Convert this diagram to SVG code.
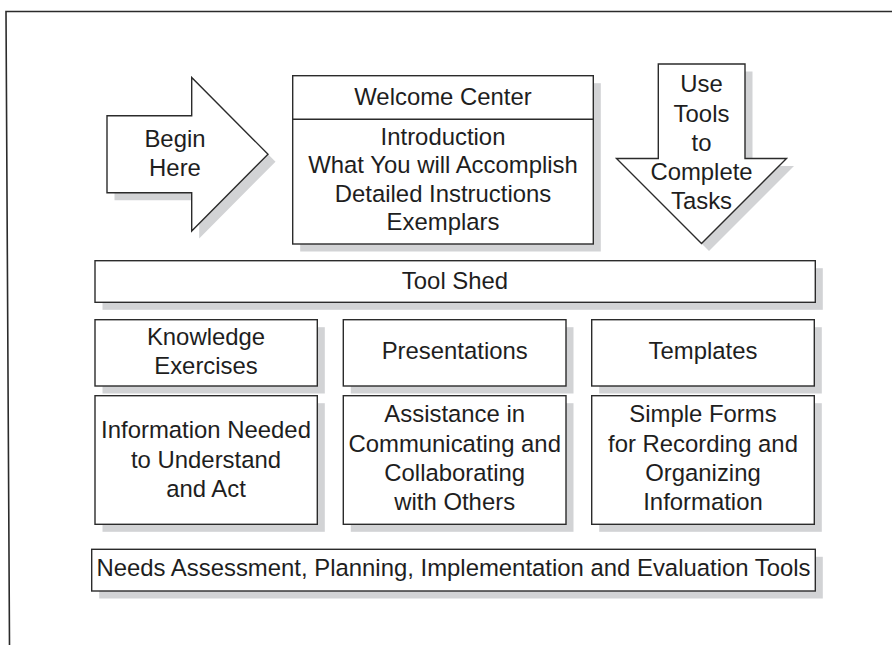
<svg xmlns="http://www.w3.org/2000/svg" xmlns:xlink="http://www.w3.org/1999/xlink" width="892" height="645" viewBox="0 0 892 645">
  <style>
    .shape { fill: #ffffff; stroke: #2b2b2b; stroke-width: 1.4; }
    .shadow { fill: #d2d3d5; stroke: none; }
    .frame { fill: none; stroke: #2b2b2b; stroke-width: 1.6; }
    .label { font-family: "Liberation Sans", Arial, sans-serif; font-size: 23.9px; fill: #1e1e1e; text-anchor: middle; }
  </style>
  <defs>
    <polygon id="beginShape" points="107,115.7 191.7,115.7 191.7,77.5 268,154.2 191.7,231 191.7,192.7 107,192.7"/>
    <polygon id="downShape" points="658.3,64 745,64 745,158.5 786.5,158.5 701.5,243.5 616.5,158.5 658.3,158.5"/>
  </defs>

  <rect width="892" height="645" fill="#ffffff"/>

  <!-- page frame -->
  <polyline class="frame" points="892,11.5 6,11.5 9.5,645"/>

  <!-- connectors (none drawn between nodes) -->
  <g id="connectors"></g>

  <g id="begin-here">
    <use xlink:href="#beginShape" class="shadow" transform="translate(7.5,7.5)"/>
    <use xlink:href="#beginShape" class="shape"/>
    <text class="label" x="175" y="147.3">Begin</text>
    <text class="label" x="175" y="175.5">Here</text>
  </g>

  <g id="welcome-center">
    <rect class="shadow" x="300.2" y="83.2" width="300.6" height="168.3"/>
    <rect class="shape" x="292.7" y="75.7" width="300.6" height="168.3"/>
    <line class="shape" x1="292.7" y1="119.3" x2="593.3" y2="119.3"/>
    <text class="label" x="443" y="105">Welcome Center</text>
    <text class="label" x="443" y="145">Introduction</text>
    <text class="label" x="443" y="173.4">What You will Accomplish</text>
    <text class="label" x="443" y="201.8">Detailed Instructions</text>
    <text class="label" x="443" y="230.2">Exemplars</text>
  </g>

  <g id="use-tools">
    <use xlink:href="#downShape" class="shadow" transform="translate(7.5,7.5)"/>
    <use xlink:href="#downShape" class="shape"/>
    <text class="label" x="701.5" y="92.3">Use</text>
    <text class="label" x="701.5" y="121.5">Tools</text>
    <text class="label" x="701.5" y="150.7">to</text>
    <text class="label" x="701.5" y="180">Complete</text>
    <text class="label" x="701.5" y="209.3">Tasks</text>
  </g>

  <g id="tool-shed">
    <rect class="shadow" x="102.5" y="268.2" width="720.3" height="41.6"/>
    <rect class="shape" x="95" y="260.7" width="720.3" height="41.6"/>
    <text class="label" x="455" y="288.5">Tool Shed</text>
  </g>

  <g id="knowledge-exercises">
    <rect class="shadow" x="102.5" y="327.2" width="222.3" height="66.3"/>
    <rect class="shape" x="95" y="319.7" width="222.3" height="66.3"/>
    <text class="label" x="206" y="345">Knowledge</text>
    <text class="label" x="206" y="373.5">Exercises</text>
  </g>

  <g id="presentations">
    <rect class="shadow" x="350.8" y="327.2" width="222.7" height="66.3"/>
    <rect class="shape" x="343.3" y="319.7" width="222.7" height="66.3"/>
    <text class="label" x="454.7" y="358.5">Presentations</text>
  </g>

  <g id="templates">
    <rect class="shadow" x="599.2" y="327.2" width="222.6" height="66.3"/>
    <rect class="shape" x="591.7" y="319.7" width="222.6" height="66.3"/>
    <text class="label" x="703" y="358.5">Templates</text>
  </g>

  <g id="information-needed">
    <rect class="shadow" x="102.5" y="403.2" width="222.3" height="128.6"/>
    <rect class="shape" x="95" y="395.7" width="222.3" height="128.6"/>
    <text class="label" x="206" y="438.3">Information Needed</text>
    <text class="label" x="206" y="467.5">to Understand</text>
    <text class="label" x="206" y="496.7">and Act</text>
  </g>

  <g id="assistance">
    <rect class="shadow" x="350.8" y="403.2" width="222.7" height="128.6"/>
    <rect class="shape" x="343.3" y="395.7" width="222.7" height="128.6"/>
    <text class="label" x="454.7" y="422.3">Assistance in</text>
    <text class="label" x="454.7" y="451.5">Communicating and</text>
    <text class="label" x="454.7" y="480.7">Collaborating</text>
    <text class="label" x="454.7" y="509.5">with Others</text>
  </g>

  <g id="simple-forms">
    <rect class="shadow" x="599.2" y="403.2" width="222.6" height="128.6"/>
    <rect class="shape" x="591.7" y="395.7" width="222.6" height="128.6"/>
    <text class="label" x="703" y="422.3">Simple Forms</text>
    <text class="label" x="703" y="451.5">for Recording and</text>
    <text class="label" x="703" y="480.7">Organizing</text>
    <text class="label" x="703" y="509.5">Information</text>
  </g>

  <g id="needs-assessment">
    <rect class="shadow" x="99.2" y="556.8" width="723.6" height="41.7"/>
    <rect class="shape" x="91.7" y="549.3" width="723.6" height="41.7"/>
    <text class="label" x="453.5" y="576">Needs Assessment, Planning, Implementation and Evaluation Tools</text>
  </g>
</svg>
